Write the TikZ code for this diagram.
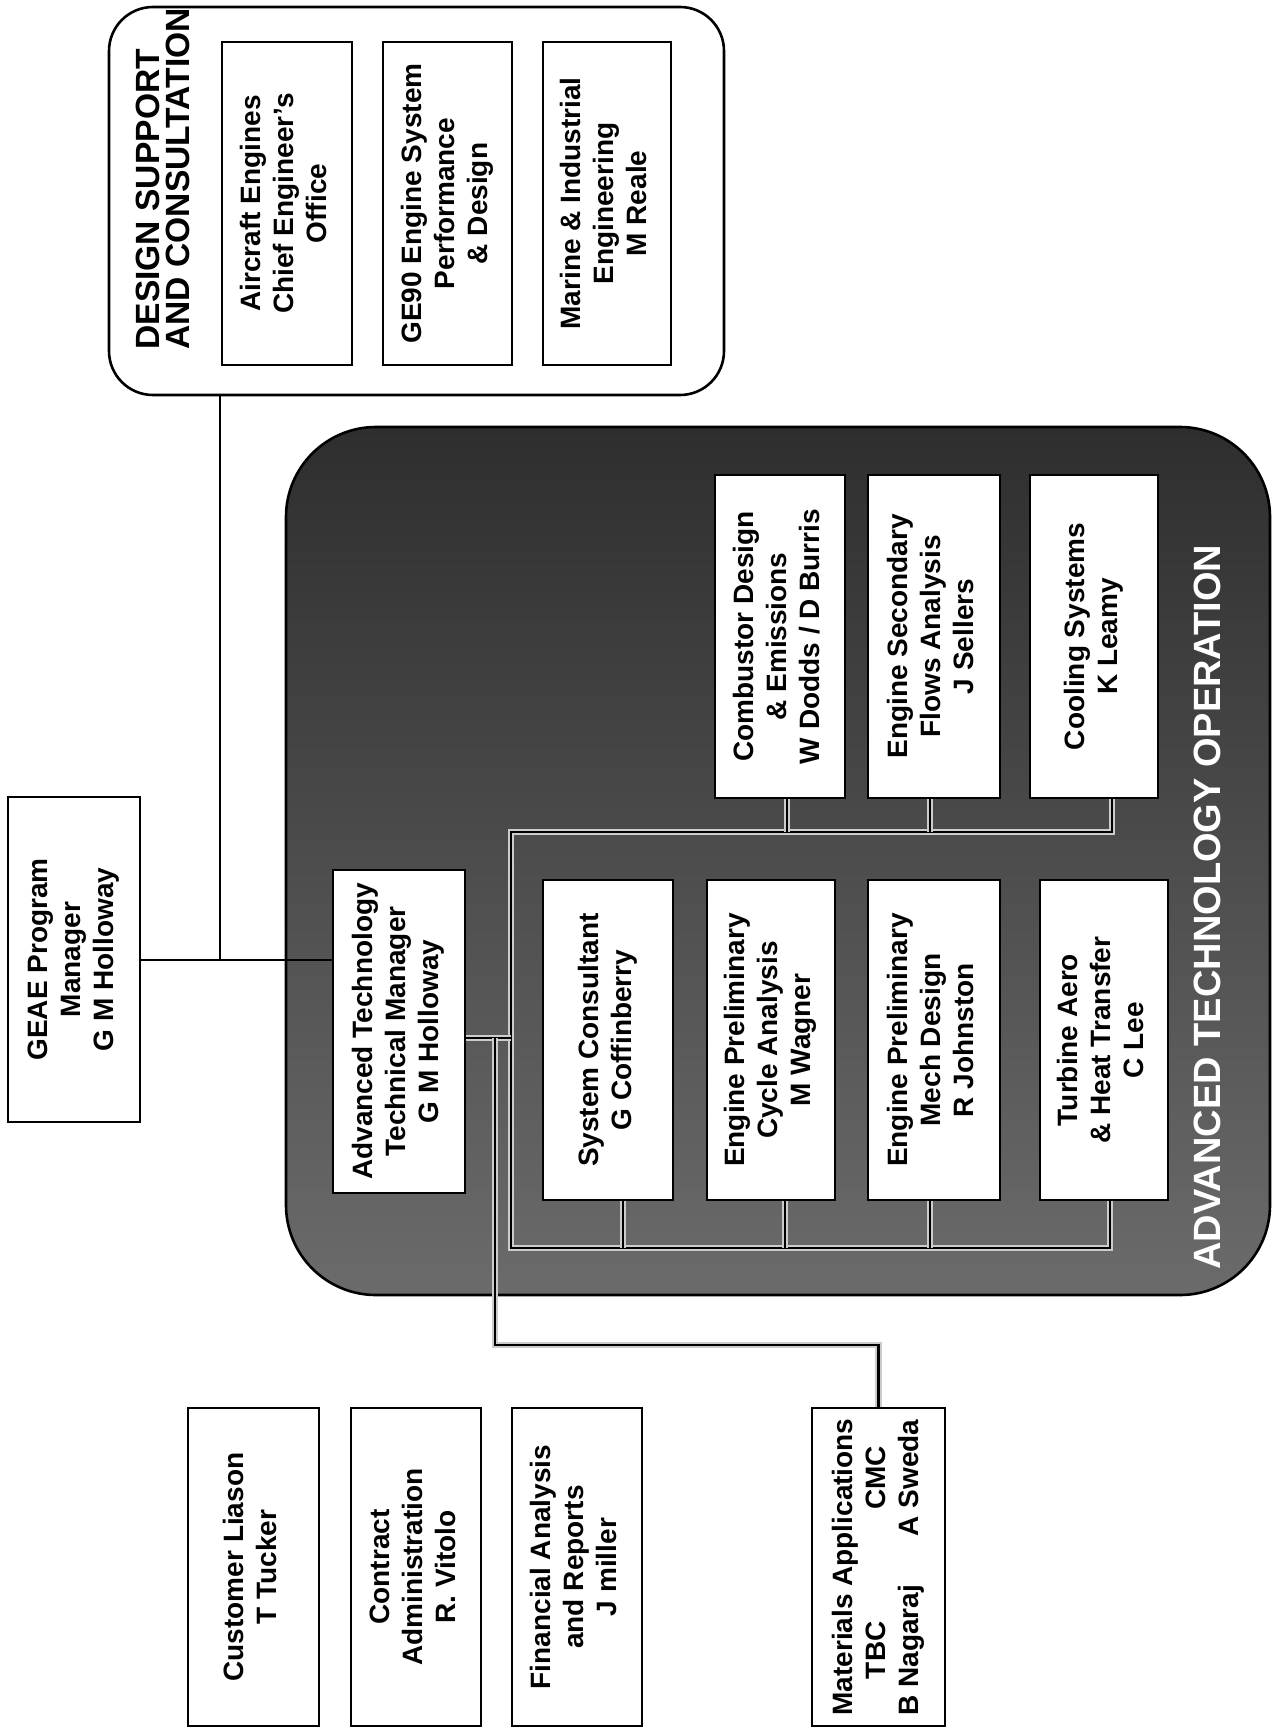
\documentclass[tikz,border=0pt]{standalone}
\usepackage{fontspec}
\setmainfont{Liberation Sans}
\pgfdeclarelayer{back}
\pgfdeclarelayer{mid}
\pgfsetlayers{back,mid,main}
\newcommand\orgbox[6]{%
 \node[orgbx, minimum width={0.5pt*(#4-#2)}, minimum height={0.5pt*(#5-#3)}] (#1) at ({(#2+#4)/2},{(#3+#5)/2}) {\rotatebox{90}{\begin{tabular}{@{}c@{}}#6\end{tabular}}};}
\begin{document}
\begin{tikzpicture}[x=0.5pt,y=-0.5pt,
 orgbx/.style={draw, line width=1.35pt, fill=white, inner sep=0pt, font=\bfseries\fontsize{14}{16.5}\selectfont},
 conn/.style={line width=1.3pt},
 bus/.style={line width=1.4pt, preaction={draw=black!20, line width=3.2pt}},
 group/.style={draw, line width=1.3pt, inner sep=0pt},
]
\useasboundingbox (0,0) rectangle (1278,1729);

% groups
\begin{pgfonlayer}{back}
\node[group, rounded corners=45pt, top color=black!82, bottom color=black!58,
  minimum width={0.5pt*(1270-286)}, minimum height={0.5pt*(1295-427)}] (ato) at ({(286+1270)/2},{(427+1295)/2}) {};
\node[group, rounded corners=22pt, fill=white,
  minimum width={0.5pt*(724-109)}, minimum height={0.5pt*(395-7)}] (dsc) at ({(109+724)/2},{(7+395)/2}) {};
\end{pgfonlayer}

\node[rotate=90, anchor=west, align=left, inner sep=0pt, font=\bfseries\fontsize{16.8}{15}\selectfont] (dsctitle) at (163,350) {DESIGN SUPPORT\\AND CONSULTATION};
\node[rotate=90, text=white, inner sep=0pt, font=\bfseries\fontsize{19}{19}\selectfont] (atolbl) at (1207,907) {ADVANCED TECHNOLOGY OPERATION};

% boxes
\orgbox{geae}{8}{797}{140}{1122}{GEAE Program\\Manager\\G M Holloway}
\orgbox{dsca}{222}{42}{352}{365}{Aircraft Engines\\Chief Engineer's\\Office}
\orgbox{dscb}{383}{42}{512}{365}{GE90 Engine System\\Performance\\\& Design}
\orgbox{dscc}{543}{42}{671}{365}{Marine \& Industrial\\Engineering\\M Reale}
\orgbox{atm}{333}{870}{465}{1193}{Advanced Technology\\Technical Manager\\G M Holloway}
\orgbox{comb}{715}{475}{845}{798}{Combustor Design\\\& Emissions\\W Dodds / D Burris}
\orgbox{sec}{868}{475}{1000}{798}{Engine Secondary\\Flows Analysis\\J Sellers}
\orgbox{cool}{1030}{475}{1158}{798}{Cooling Systems\\K Leamy}
\orgbox{sc}{543}{880}{673}{1200}{System Consultant\\G Coffinberry}
\orgbox{cyc}{707}{880}{835}{1200}{Engine Preliminary\\Cycle Analysis\\M Wagner}
\orgbox{mech}{868}{880}{1000}{1200}{Engine Preliminary\\Mech Design\\R Johnston}
\orgbox{turb}{1040}{880}{1168}{1200}{Turbine Aero\\\& Heat Transfer\\C Lee}
\orgbox{cust}{188}{1408}{319}{1726}{Customer Liason\\T Tucker}
\orgbox{contr}{351}{1408}{481}{1726}{Contract\\Administration\\R. Vitolo}
\orgbox{fin}{512}{1408}{642}{1726}{Financial Analysis\\and Reports\\J miller}
\node[orgbx, minimum width={0.5pt*(945-812)}, minimum height={0.5pt*(1726-1408)}] (mat) at ({(812+945)/2},{(1408+1726)/2})
 {\rotatebox{90}{\begin{tabular}{@{}c@{\hspace{1.7em}}c@{}}\multicolumn{2}{@{}c@{}}{Materials Applications}\\TBC&CMC\\B Nagaraj&A Sweda\end{tabular}}};

% connectors
\coordinate (j1) at (220,960);
\coordinate (bt) at (511,832);
\coordinate (bb) at (511,1248);
\coordinate (aj) at (511,1038);
\coordinate (dj) at (495,1038);
\coordinate (dk) at (495,1345);

\draw[conn] (geae.east |- j1) -- (j1) -- (j1 -| atm.west);
\draw[conn] (dsc.south -| j1) -- (j1);

\begin{pgfonlayer}{mid}
\draw[bus] ([xshift=9pt]cool.south) -- ([xshift=9pt]cool.south |- bt) -- (bt) -- (bb)
  -- ([xshift=3pt]turb.south |- bb) -- ([xshift=3pt]turb.south);
\draw[bus] ([xshift=3.5pt]comb.south) -- ([xshift=3.5pt]comb.south |- bt);
\draw[bus] ([xshift=-2pt]sec.south) -- ([xshift=-2pt]sec.south |- bt);
\draw[bus] ([xshift=7.5pt]sc.south) -- ([xshift=7.5pt]sc.south |- bb);
\draw[bus] ([xshift=7pt]cyc.south) -- ([xshift=7pt]cyc.south |- bb);
\draw[bus] ([xshift=-2pt]mech.south) -- ([xshift=-2pt]mech.south |- bb);
\draw[bus] (atm.east |- aj) -- (aj);
\draw[bus] (dj) -- (dk) -- (dk -| mat.north) -- (mat.north);
\end{pgfonlayer}
\end{tikzpicture}
\end{document}
